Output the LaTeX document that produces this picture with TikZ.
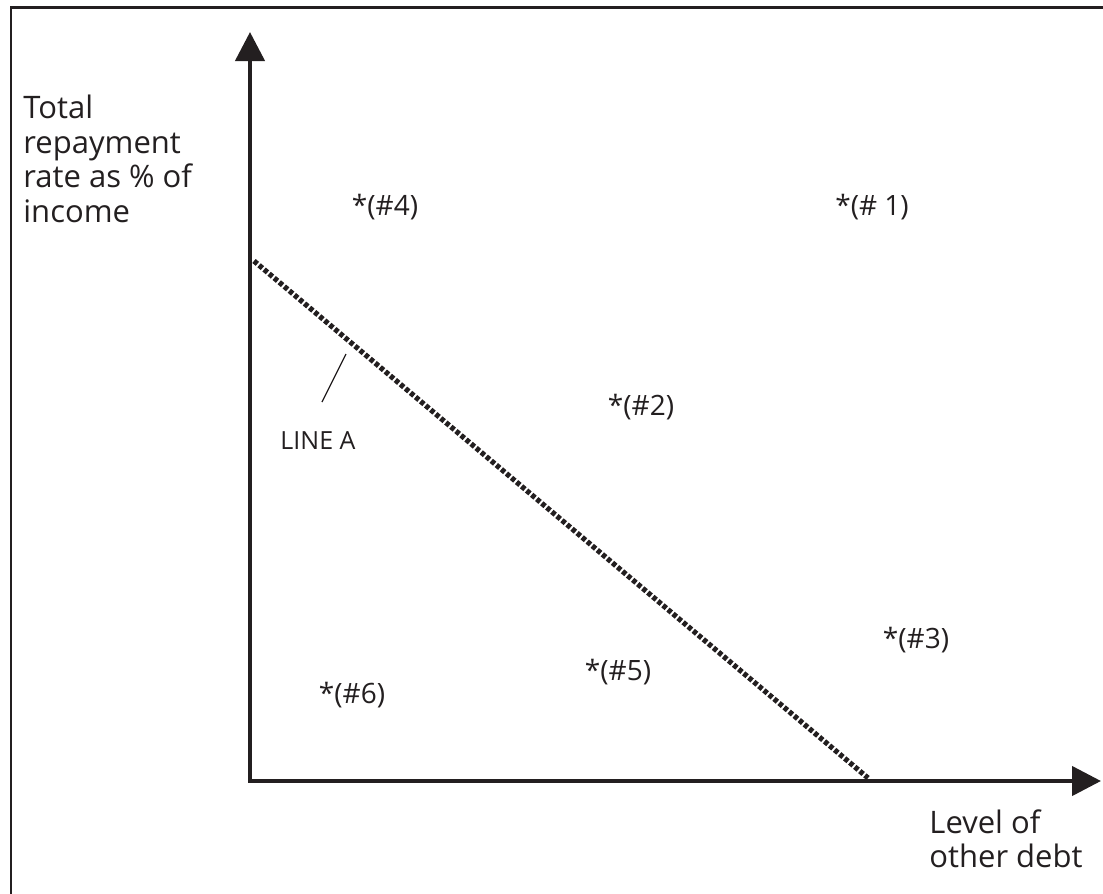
\documentclass[tikz,border=0pt]{standalone}
\usepackage{fontspec}
\setmainfont{Open Sans}
\usetikzlibrary{arrows.meta}
\definecolor{inkBlack}{RGB}{35,31,32}

\begin{document}
\begin{tikzpicture}[x=0.5pt, y=-0.5pt, >={Triangle[length=14.5pt, width=14.5pt]},
    axis/.style={inkBlack, line width=2.2pt},
    axislabel/.style={inkBlack, inner sep=0pt, align=left, font=\fontsize{15.5}{17.2}\selectfont},
    pointlabel/.style={inkBlack, inner sep=0pt, font=\fontsize{14}{16}\selectfont},
    lineA/.style={inkBlack, line width=2.6pt, dash pattern=on 2.2pt off 1.1pt}]
    \useasboundingbox (0,0) rectangle (1103,894);
    % --- open frame: top and left edges only ---
    \draw[inkBlack, line width=1.3pt] (11,894) -- (11,7.5) -- (1103,7.5);
    % --- axes ---
    \coordinate (origin) at (250,781);
    \coordinate (ytip) at (250,32);
    \coordinate (xtip) at (1101,781);
    \draw[<->, axis] (ytip) -- (origin) -- (xtip);
    % --- axis labels ---
    \node[axislabel, anchor=north west] (ylabel) at (23,95)
      {Total\\repayment\\rate as \% of\\income};
    \node[axislabel, anchor=north west] (xlabel) at (929,809)
      {Level of\\other debt};
    % --- line A, dotted ---
    \coordinate (lineStart) at (254,261);
    \coordinate (lineEnd) at (868,778);
    \draw[lineA] (lineStart) -- (lineEnd);
    % --- its label and pointer ---
    \node[pointlabel, font=\fontsize{12.5}{15}\selectfont] (lineAlabel) at (318,441) {LINE A};
    \coordinate (tickTop) at (346,354);
    \coordinate (tickBottom) at (322,402);
    \draw[inkBlack, line width=0.6pt] (tickTop) -- (tickBottom);
    % --- the six cases ---
    \node[pointlabel] (case1) at (872,207) {*(\# 1)};
    \node[pointlabel] (case2) at (641,407) {*(\#2)};
    \node[pointlabel] (case3) at (916,640) {*(\#3)};
    \node[pointlabel] (case4) at (385,207) {*(\#4)};
    \node[pointlabel] (case5) at (618,672) {*(\#5)};
    \node[pointlabel] (case6) at (352,695) {*(\#6)};
\end{tikzpicture}
\end{document}
